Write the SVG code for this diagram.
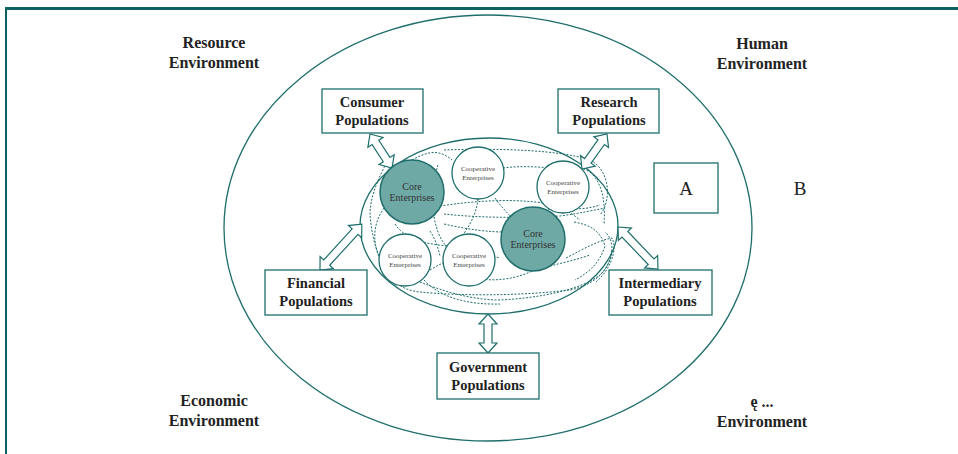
<svg xmlns="http://www.w3.org/2000/svg" width="958" height="454" viewBox="0 0 958 454">
<style>
.ln{fill:none;stroke:#1f6e6c;stroke-width:1.3}
.box{fill:#fff;stroke:#1f6e6c;stroke-width:1.3}
.core{fill:#6fa9a6;stroke:#1f6e6c;stroke-width:1.5}
.coop{fill:#fff;stroke:#1f6e6c;stroke-width:1.3}
.dash{fill:none;stroke:#1f6e6c;stroke-width:1;stroke-dasharray:2 1.5}
.arr{fill:#fff;stroke:#1f6e6c;stroke-width:1.2;stroke-linejoin:miter}
.lbl{font-family:"Liberation Serif",serif;font-weight:bold;font-size:14.5px;fill:#222;text-anchor:middle}
.env{font-family:"Liberation Serif",serif;font-weight:bold;font-size:16px;fill:#222;text-anchor:middle}
.cor{font-family:"Liberation Serif",serif;font-size:10px;fill:#333;text-anchor:middle}
.cop{font-family:"Liberation Serif",serif;font-size:7px;fill:#444;text-anchor:middle}
.big{font-family:"Liberation Serif",serif;font-size:19px;fill:#222;text-anchor:middle}
</style>
<rect width="958" height="454" fill="#fff"/>
<g id="frame">
<line x1="5" y1="8.5" x2="958" y2="8.5" stroke="#0e6362" stroke-width="3"/>
<line x1="6" y1="8" x2="6" y2="454" stroke="#0e6362" stroke-width="2"/>
</g>
<g id="outer"><ellipse class="ln" cx="488" cy="228" rx="264" ry="213"/></g>
<g id="inner"><ellipse class="ln" cx="489" cy="226" rx="129" ry="88"/></g>
<g id="connectors">
<path class="dash" d="M412 160 C430 150 440 150 452 160 M438 165 C432 185 430 210 438 232 C445 250 460 262 470 262"/>
<path class="dash" d="M444 150 C 500 148 560 150 590 160 C610 170 612 200 600 215"/>
<path class="dash" d="M440 206 C480 200 520 198 555 205 C570 210 585 210 600 205"/>
<path class="dash" d="M444 224 C470 230 490 232 505 232"/>
<path class="dash" d="M444 214 C480 218 520 218 560 216 C575 214 585 212 605 208"/>
<path class="dash" d="M384 208 C372 225 372 245 382 262 C390 280 400 290 420 292 C460 296 520 296 570 290 C595 285 610 270 612 250"/>
<path class="dash" d="M395 224 C405 240 430 245 450 246"/>
<path class="dash" d="M420 282 C440 290 470 300 500 300 C540 298 580 290 600 275 C615 260 615 240 605 232"/>
<path class="dash" d="M388 160 C380 175 370 195 370 215 C372 240 380 270 400 290"/>
<path class="dash" d="M478 199 C476 215 470 225 462 236"/>
<path class="dash" d="M495 198 C505 212 515 220 520 228"/>
<path class="dash" d="M503 168 C525 165 545 168 560 168 C575 165 590 168 598 180"/>
<path class="dash" d="M452 270 C470 280 500 285 530 272 C550 265 570 262 590 255"/>
<path class="dash" d="M566 258 C585 248 600 240 612 238 C618 250 610 270 596 282"/>
<path class="dash" d="M574 222 C590 225 600 230 605 246 C600 262 590 272 575 280"/>
<path class="dash" d="M430 270 C450 258 470 250 500 258"/>
<path class="dash" d="M588 170 C600 180 606 195 604 225"/>
<path class="dash" d="M456 163 C470 157 480 155 500 158"/>
<path class="dash" d="M548 210 C560 205 570 212 580 220"/>
<path class="dash" d="M430 231 C436 240 438 248 440 256"/>
<path class="dash" d="M424 280 C440 298 470 305 500 304"/>
<polygon class="arr" points="0,0 10,-9 10,-4 30.5,-4 30.5,-9 40.5,0 30.5,9 30.5,4 10,4 10,9" transform="translate(370,134) rotate(57)"/>
<polygon class="arr" points="0,0 10,-9 10,-4 33,-4 33,-9 43,0 33,9 33,4 10,4 10,9" transform="translate(607,134) rotate(125.5)"/>
<polygon class="arr" points="0,0 10,-9 10,-4 52,-4 52,-9 62,0 52,9 52,4 10,4 10,9" transform="translate(320,270) rotate(-47.6)"/>
<polygon class="arr" points="0,0 10,-9 10,-4 48,-4 48,-9 58,0 48,9 48,4 10,4 10,9" transform="translate(618,227) rotate(46.4)"/>
<polygon class="arr" points="0,0 10,-9 10,-4 29,-4 29,-9 39,0 29,9 29,4 10,4 10,9" transform="translate(488,314) rotate(90)"/>
</g>
<g id="core1"><circle class="core" cx="412" cy="192" r="32"/><text class="cor" x="412" y="190">Core</text><text class="cor" x="412" y="201">Enterprises</text></g>
<g id="coop1"><circle class="coop" cx="478" cy="173" r="26"/><text class="cop" x="478" y="171">Cooperative</text><text class="cop" x="478" y="180">Enterprises</text></g>
<g id="coop2"><circle class="coop" cx="563" cy="187" r="26"/><text class="cop" x="563" y="185">Cooperative</text><text class="cop" x="563" y="194">Enterprises</text></g>
<g id="core2"><circle class="core" cx="533" cy="239" r="32"/><text class="cor" x="533" y="237">Core</text><text class="cor" x="533" y="248">Enterprises</text></g>
<g id="coop3"><circle class="coop" cx="405" cy="260" r="26"/><text class="cop" x="405" y="258">Cooperative</text><text class="cop" x="405" y="267">Enterprises</text></g>
<g id="coop4"><circle class="coop" cx="469" cy="260" r="26"/><text class="cop" x="469" y="258">Cooperative</text><text class="cop" x="469" y="267">Enterprises</text></g>
<g id="consumer"><rect class="box" x="322" y="89" width="101" height="44"/><text class="lbl" x="372" y="107">Consumer</text><text class="lbl" x="372" y="125">Populations</text></g>
<g id="research"><rect class="box" x="558" y="89" width="101" height="44"/><text class="lbl" x="609" y="107">Research</text><text class="lbl" x="609" y="125">Populations</text></g>
<g id="financial"><rect class="box" x="265" y="270" width="102" height="45"/><text class="lbl" x="316" y="288">Financial</text><text class="lbl" x="316" y="306">Populations</text></g>
<g id="intermediary"><rect class="box" x="609" y="270" width="103" height="45"/><text class="lbl" x="660" y="288">Intermediary</text><text class="lbl" x="660" y="306">Populations</text></g>
<g id="government"><rect class="box" x="437" y="353" width="102" height="46"/><text class="lbl" x="488" y="372">Government</text><text class="lbl" x="488" y="390">Populations</text></g>
<g id="A"><rect class="box" x="654" y="163" width="64" height="50"/><text class="big" x="686" y="195">A</text></g>
<g id="B"><text class="big" x="800" y="195">B</text></g>
<g id="env">
<text class="env" x="214" y="48">Resource</text><text class="env" x="214" y="68">Environment</text>
<text class="env" x="762" y="49">Human</text><text class="env" x="762" y="69">Environment</text>
<text class="env" x="214" y="406">Economic</text><text class="env" x="214" y="426">Environment</text>
<text class="env" x="762" y="407">ę ...</text><text class="env" x="762" y="427">Environment</text>
</g>
</svg>
